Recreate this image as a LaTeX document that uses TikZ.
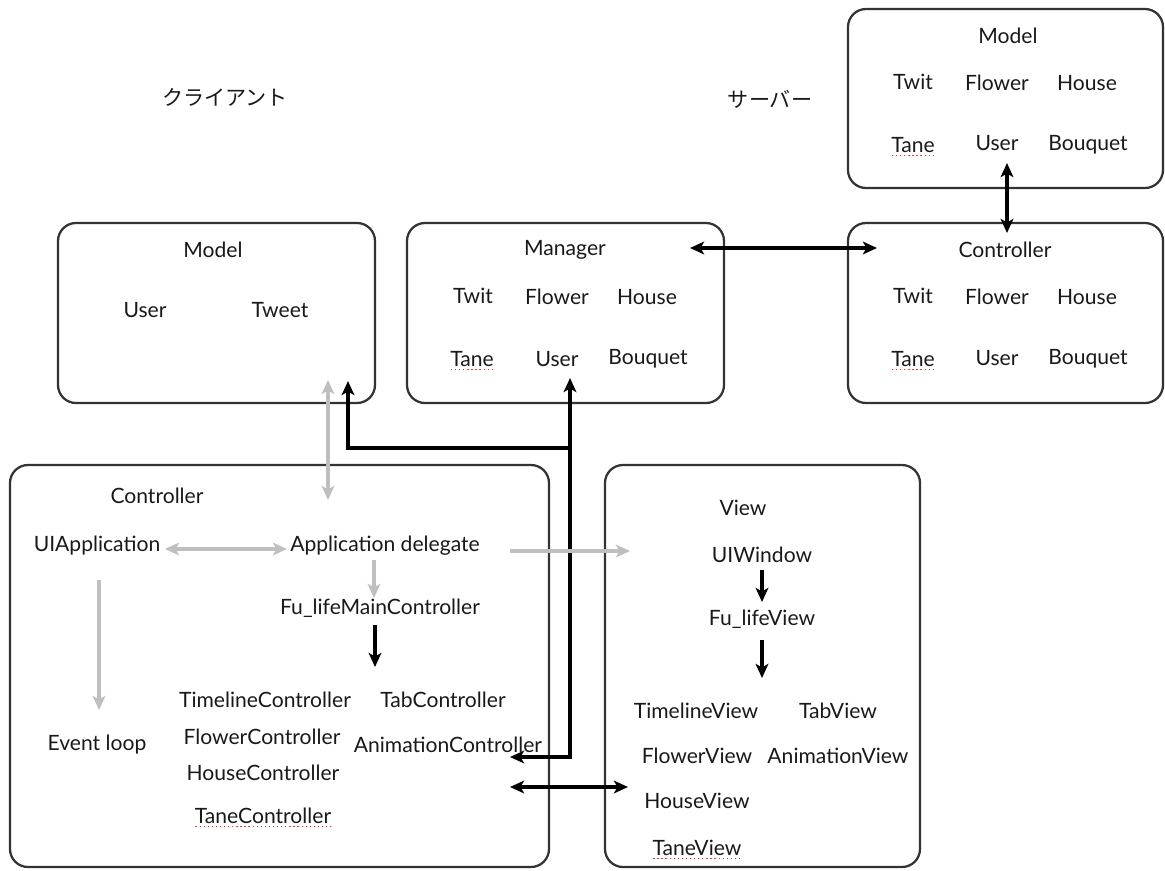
\documentclass[tikz,border=0pt]{standalone}
\usepackage{fontspec}
\setmainfont{Lato}
\newfontfamily\jpfont{Noto Sans CJK JP}
\usetikzlibrary{arrows.meta}

\begin{document}
\begin{tikzpicture}[
    x=0.025cm, y=-0.025cm,
    >={Stealth[length=10pt, width=9pt, inset=2.5pt]},
    every node/.style={font=\fontsize{15}{17}\selectfont, text=black!90},
    panel/.style={draw=black!80, line width=1.6pt, rounded corners=0.45cm},
    blk/.style={line width=2.3pt, black},
    gry/.style={line width=2.3pt, black!25},
    spell/.style={red!80, dotted, line width=0.9pt}
]
\useasboundingbox (0,0) rectangle (1165,870);

% Boxes
\draw[panel] (848,9) rectangle (1163,188);
\draw[panel] (848,223) rectangle (1163,403);
\draw[panel] (58,223) rectangle (375,403);
\draw[panel] (407,223) rectangle (724,403);
\draw[panel] (10,465) rectangle (549,867);
\draw[panel] (605,465) rectangle (920,867);

% Headings
\node[font=\jpfont\fontsize{15}{17}\selectfont] (client) at (225,97) {クライアント};
\node[font=\jpfont\fontsize{15}{17}\selectfont] (server) at (770,99) {サーバー};

% Server model
\node (smTitle) at (1008,36) {Model};
\node (smTwit) at (913,82) {Twit};
\node (smFlower) at (997,83) {Flower};
\node (smHouse) at (1087,83) {House};
\node (smTane) at (913,145) {Tane};
\node (smUser) at (997,143) {User};
\node (smBouquet) at (1088,145) {Bouquet};

% Server controller
\node (scTitle) at (1005,250) {Controller};
\node (scTwit) at (913,296) {Twit};
\node (scFlower) at (997,297) {Flower};
\node (scHouse) at (1087,297) {House};
\node (scTane) at (913,359) {Tane};
\node (scUser) at (997,358) {User};
\node (scBouquet) at (1088,359) {Bouquet};

% Client model
\node (cmTitle) at (213,250) {Model};
\node (cmUser) at (145,310) {User};
\node (cmTweet) at (280,310) {Tweet};

% Manager
\node (mgTitle) at (565,250) {Manager};
\node (mgTwit) at (473,296) {Twit};
\node (mgFlower) at (557,297) {Flower};
\node (mgHouse) at (647,297) {House};
\node (mgTane) at (472,359) {Tane};
\node (mgUser) at (557,359) {User};
\node (mgBouquet) at (648,359) {Bouquet};

% Client controller
\node (ccTitle) at (157,496) {Controller};
\node (uiapp) at (97,546) {UIApplication};
\node (appdel) at (385,546) {Application delegate};
\node (mainCtrl) at (380,608) {Fu\_lifeMainController};
\node (tlCtrl) at (265,700) {TimelineController};
\node (tabCtrl) at (443,700) {TabController};
\node (evloop) at (97,745) {Event loop};
\node (flCtrl) at (262,737) {FlowerController};
\node (anCtrl) at (448,745) {AnimationController};
\node (hsCtrl) at (263,773) {HouseController};
\node (tcTane) at (263,816) {TaneController};

% View
\node (vTitle) at (743,508) {View};
\node (uiwin) at (762,555) {UIWindow};
\node (lifeView) at (762,619) {Fu\_lifeView};
\node (tlView) at (696,711) {TimelineView};
\node (tabView) at (838,711) {TabView};
\node (flView) at (697,756) {FlowerView};
\node (anView) at (838,756) {AnimationView};
\node (hsView) at (697,801) {HouseView};
\node (tvTane) at (697,848) {TaneView};

% Spell check marks
\foreach \t in {smTane, scTane, mgTane, tcTane, tvTane} {
    \draw[spell] ([xshift=4pt, yshift=-2pt]\t.base west) -- ([xshift=-4pt, yshift=-2pt]\t.base east);
}

% Arrow ends
\coordinate (smTip) at (1007,163);
\coordinate (scTip) at (1007,233);
\coordinate (mgTip) at (690,248);
\coordinate (scLeft) at (877,248);
\coordinate (cmGray) at (328,380);
\coordinate (adGray) at (328,500);
\coordinate (cmTip) at (348,381);
\coordinate (busJoin) at (570,448);
\coordinate (mgUserTip) at (570,378);
\coordinate (busCorner) at (570,757);
\coordinate (anTip) at (510,757);
\coordinate (ccRight) at (510,787);
\coordinate (vLeft) at (628,787);
\coordinate (uiappE) at (165,549);
\coordinate (appdelW) at (287,549);
\coordinate (appdelS) at (374,560);
\coordinate (mainN) at (374,598);
\coordinate (uiappS) at (99,580);
\coordinate (evloopN) at (99,710);
\coordinate (appdelE) at (510,551);
\coordinate (uiwinW) at (630,551);
\coordinate (mainS) at (375,625);
\coordinate (tlN) at (375,667);
\coordinate (uiwinS) at (762,570);
\coordinate (lifeN) at (762,602);
\coordinate (lifeS) at (762,640);
\coordinate (itemsN) at (762,678);

% Black connectors
\draw[blk, <->] (smTip) -- (scTip);
\draw[blk, <->] (mgTip) -- (scLeft);
\draw[blk, ->] (busJoin) -| (cmTip);
\draw[blk, <->] (mgUserTip) -- (busCorner) -- (anTip);
\draw[blk, <->] (ccRight) -- (vLeft);
\draw[blk, ->] (mainS) -- (tlN);
\draw[blk, ->] (uiwinS) -- (lifeN);
\draw[blk, ->] (lifeS) -- (itemsN);

% Gray connectors
\draw[gry, <->] (cmGray) -- (adGray);
\draw[gry, <->] (uiappE) -- (appdelW);
\draw[gry, ->] (appdelS) -- (mainN);
\draw[gry, ->] (uiappS) -- (evloopN);
\draw[gry, ->] (appdelE) -- (uiwinW);

\end{tikzpicture}
\end{document}
